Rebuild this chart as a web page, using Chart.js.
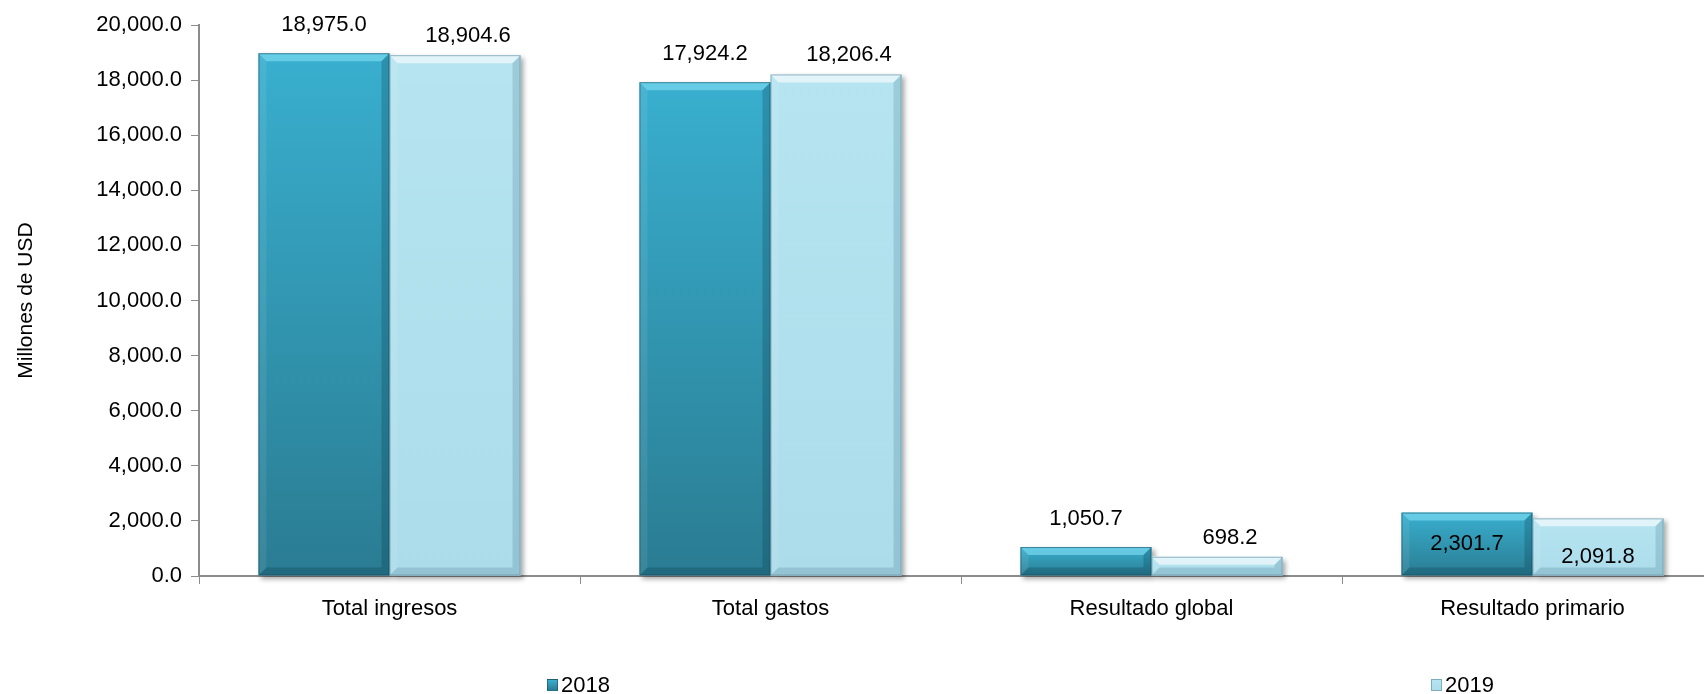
<!DOCTYPE html>
<html>
<head>
<meta charset="utf-8">
<script src="https://cdn.jsdelivr.net/npm/chart.js@4.4.1/dist/chart.umd.min.js"></script>
<style>
  html, body { margin: 0; padding: 0; background: #fff; overflow: hidden; }
  #wrap { position: relative; width: 1724px; height: 694px; }
  #legend { position: absolute; left: 0; top: 0; width: 1704px; height: 694px; pointer-events: none; }
  .leg-item { position: absolute; top: 672px; display: flex; align-items: center;
    font-family: 'Liberation Sans', Arial, sans-serif; font-size: 22px; color: #000; }
  .leg-box { width: 11px; height: 12px; margin-right: 3px; box-sizing: border-box; }
</style>
</head>
<body>
<div id="wrap">
  <canvas id="chart" width="1724" height="694"></canvas>
  <div id="legend"></div>
</div>
<script>
// Fiscal results 2018 vs 2019 (millones de USD)

const categories = ['Total ingresos', 'Total gastos', 'Resultado global', 'Resultado primario'];
const seriesNames = ['2018', '2019'];
const values2018 = [18975.0, 17924.2, 1050.7, 2301.7];
const values2019 = [18904.6, 18206.4, 698.2, 2091.8];
const yMin = 0;
const yMax = 20000;
const yStep = 2000;
const axisTitle = 'Millones de USD';

// Colours (top / bottom of each bar gradient) and bevel tones
const barStyles = [
  { top: '#39afcf', bottom: '#2a7c92', light: 'rgba(140,230,250,0.55)', dark: 'rgba(0,40,60,0.22)', edge: 'rgba(20,70,90,0.55)' },
  { top: '#b6e4f1', bottom: '#acdcea', light: 'rgba(255,255,255,0.6)', dark: 'rgba(40,90,110,0.18)', edge: 'rgba(90,140,160,0.6)' }
];
// label placement per series (Excel places them a bit irregularly)
const labelOffsets = [{ dx: 0, dy: -28 }, { dx: 13, dy: -19 }];
const insideOffsets = [{ dx: 0, dy: 0 }, { dx: 0, dy: 10 }];
const insideCategory = 'Resultado primario';

const FONT = "'Liberation Sans', Arial, sans-serif";
const FONT_SIZE = 22;

function fmt(v) {
  return v.toLocaleString('en-US', { minimumFractionDigits: 1, maximumFractionDigits: 1 });
}

// per-bar vertical gradient, computed from the scales
function barFill(dsIndex) {
  return function(context) {
    const chart = context.chart;
    const style = barStyles[dsIndex];
    if (!chart.chartArea || !chart.scales.y) return style.top;
    const yScale = chart.scales.y;
    const v = context.raw || 0;
    const yTop = yScale.getPixelForValue(v);
    const yBase = yScale.getPixelForValue(0);
    if (!isFinite(yTop) || Math.abs(yBase - yTop) < 1) return style.top;
    const g = chart.ctx.createLinearGradient(0, yTop, 0, yBase);
    g.addColorStop(0, style.top);
    g.addColorStop(1, style.bottom);
    return g;
  };
}

// soft shadow behind bars
const shadowPlugin = {
  id: 'barShadow',
  beforeDatasetsDraw(chart) {
    const ctx = chart.ctx;
    ctx.save();
    chart.data.datasets.forEach((ds, i) => {
      chart.getDatasetMeta(i).data.forEach(bar => {
        const p = bar.getProps(['x', 'y', 'base', 'width'], true);
        const left = p.x - p.width / 2;
        ctx.shadowColor = 'rgba(0,0,0,0.35)';
        ctx.shadowBlur = 5;
        ctx.shadowOffsetX = 3;
        ctx.shadowOffsetY = 3;
        ctx.fillStyle = '#fff';
        ctx.fillRect(left, p.y, p.width, p.base - p.y);
      });
    });
    ctx.restore();
  }
};

// bevel edges + data labels
const bevelPlugin = {
  id: 'bevel',
  afterDatasetsDraw(chart) {
    const ctx = chart.ctx;
    ctx.save();
    chart.data.datasets.forEach((ds, i) => {
      const style = barStyles[i];
      chart.getDatasetMeta(i).data.forEach(bar => {
        const p = bar.getProps(['x', 'y', 'base', 'width'], true);
        const x0 = p.x - p.width / 2, x1 = p.x + p.width / 2;
        const y0 = p.y, y1 = p.base;
        const b = Math.min(8, (y1 - y0) / 2);

        function quad(pts, color) {
          ctx.beginPath();
          ctx.moveTo(pts[0][0], pts[0][1]);
          for (let k = 1; k < pts.length; k++) ctx.lineTo(pts[k][0], pts[k][1]);
          ctx.closePath();
          ctx.fillStyle = color;
          ctx.fill();
        }
        quad([[x0, y0], [x1, y0], [x1 - b, y0 + b], [x0 + b, y0 + b]], style.light);
        quad([[x0, y0], [x0 + b, y0 + b], [x0 + b, y1 - b], [x0, y1]], 'rgba(255,255,255,0.08)');
        quad([[x1, y0], [x1, y1], [x1 - b, y1 - b], [x1 - b, y0 + b]], style.dark);
        quad([[x0, y1], [x0 + b, y1 - b], [x1 - b, y1 - b], [x1, y1]], style.dark);
        ctx.strokeStyle = style.edge;
        ctx.lineWidth = 1;
        ctx.strokeRect(x0 + 0.5, y0 + 0.5, p.width - 1, y1 - y0 - 1);
      });
    });

    // value labels
    ctx.fillStyle = '#000';
    ctx.font = FONT_SIZE + 'px ' + FONT;
    ctx.textAlign = 'center';
    ctx.textBaseline = 'middle';
    chart.data.datasets.forEach((ds, i) => {
      chart.getDatasetMeta(i).data.forEach((bar, j) => {
        const p = bar.getProps(['x', 'y', 'base'], true);
        const txt = fmt(ds.data[j]);
        if (chart.data.labels[j] === insideCategory) {
          const o = insideOffsets[i];
          ctx.fillText(txt, p.x + o.dx, (p.y + p.base) / 2 + o.dy);
        } else {
          const o = labelOffsets[i];
          ctx.fillText(txt, p.x + o.dx, p.y + o.dy);
        }
      });
    });
    ctx.restore();
  }
};

const ctx = document.getElementById('chart').getContext('2d');
const chart = new Chart(ctx, {
  type: 'bar',
  data: {
    labels: categories,
    datasets: [
      { label: seriesNames[0], data: values2018, backgroundColor: barFill(0), borderWidth: 0 },
      { label: seriesNames[1], data: values2019, backgroundColor: barFill(1), borderWidth: 0 }
    ]
  },
  options: {
    responsive: false,
    animation: false,
    events: [],
    layout: { padding: { top: 25, right: 1, bottom: 0, left: 0 } },
    datasets: {
      bar: { categoryPercentage: 0.688, barPercentage: 1.0 }
    },
    scales: {
      x: {
        offset: true,
        grid: { offset: true, drawOnChartArea: false, drawTicks: true, tickLength: 8, color: '#8c8c8c' },
        border: { display: true, color: '#8c8c8c', width: 2 },
        ticks: { color: '#000', font: { family: FONT, size: FONT_SIZE }, padding: 12, maxRotation: 0 },
        afterFit(scale) { scale.height = 118; }
      },
      y: {
        min: yMin,
        max: yMax,
        ticks: {
          stepSize: yStep,
          color: '#000',
          font: { family: FONT, size: FONT_SIZE },
          padding: 9,
          callback: v => fmt(v)
        },
        grid: { drawOnChartArea: false, drawTicks: true, tickLength: 8, color: '#8c8c8c' },
        border: { display: true, color: '#8c8c8c', width: 2 },
        title: { display: true, text: axisTitle, color: '#000', font: { family: FONT, size: 21 }, padding: { top: 14, bottom: 0 } },
        afterFit(scale) { scale.width = 199; }
      }
    },
    plugins: {
      legend: { display: false },
      tooltip: { enabled: false }
    }
  },
  plugins: [shadowPlugin, bevelPlugin]
});

// legend, laid out like the Excel original (items spread apart)
const legendX = [547, 1431];
const legend = document.getElementById('legend');
chart.data.datasets.forEach((ds, i) => {
  const item = document.createElement('div');
  item.className = 'leg-item';
  item.style.left = legendX[i] + 'px';
  const box = document.createElement('span');
  box.className = 'leg-box';
  box.style.background = 'linear-gradient(' + barStyles[i].top + ',' + barStyles[i].bottom + ')';
  box.style.border = '1px solid ' + barStyles[i].edge;
  const txt = document.createElement('span');
  txt.textContent = ds.label;
  item.appendChild(box);
  item.appendChild(txt);
  legend.appendChild(item);
});
</script>
</body>
</html>
